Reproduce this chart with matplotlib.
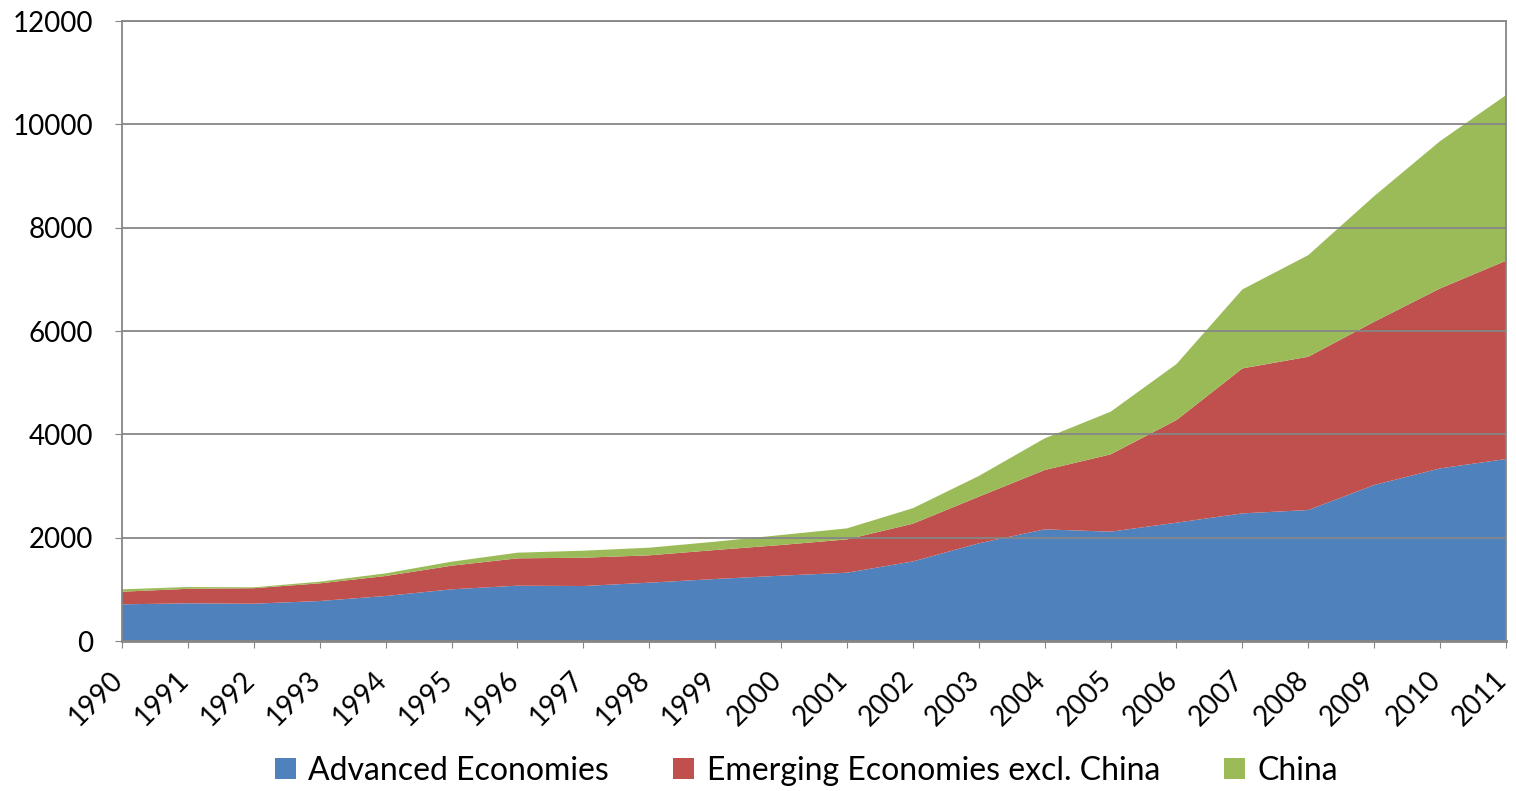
import matplotlib
matplotlib.use("Agg")
import matplotlib.pyplot as plt
from matplotlib.patches import Patch
from matplotlib.transforms import ScaledTranslation
import numpy as np

years = list(range(1990, 2012))

# stacked totals read per layer
advanced = [710, 729, 722, 774, 871, 1000, 1071, 1064, 1129, 1200, 1264,
            1322, 1540, 1890, 2161, 2116, 2290, 2470, 2535, 3019, 3341, 3522]
emerging_top = [954, 1010, 1022, 1116, 1258, 1457, 1600, 1612, 1658, 1761, 1858,
                1967, 2270, 2793, 3309, 3612, 4276, 5276, 5502, 6179, 6824, 7360]
china_top = [1000, 1045, 1039, 1148, 1309, 1535, 1709, 1748, 1806, 1922, 2051,
             2180, 2570, 3193, 3922, 4437, 5360, 6805, 7469, 8611, 9675, 10565]

emerging = [e - a for e, a in zip(emerging_top, advanced)]
china = [c - e for c, e in zip(china_top, emerging_top)]

labels = ["Advanced Economies", "Emerging Economies excl. China", "China"]
colors = ["#4F81BD", "#C0504D", "#9BBB59"]

plt.rcParams['font.family'] = ['Lato', 'DejaVu Sans']

fig = plt.figure(figsize=(15.16, 7.91), dpi=100)
ax = fig.add_axes([122 / 1516, 1 - 641 / 791, (1506 - 122) / 1516, (641 - 21) / 791])

ax.stackplot(years, advanced, emerging, china, colors=colors, linewidth=0)

ax.set_xlim(1990, 2011)
ax.set_ylim(0, 12000)
ax.set_yticks(np.arange(0, 12001, 2000))
ax.set_xticks(years)
ax.set_xticklabels([str(y) for y in years], rotation=45, ha="right",
                   va="center_baseline", rotation_mode="anchor", fontsize=20)
ax.tick_params(axis="y", labelsize=20, length=5, color="#868686", pad=16)
ax.tick_params(axis="x", length=5, color="#868686", pad=19)

# pull the slanted year labels slightly left so they sit under their ticks
shift = ScaledTranslation(-5 / 100, 0, fig.dpi_scale_trans)
for lbl in ax.get_xticklabels():
    lbl.set_transform(lbl.get_transform() + shift)

ax.yaxis.grid(True, color="#868686", linewidth=1.3)
ax.set_axisbelow(False)
for sp in ax.spines.values():
    sp.set_color("#868686")
    sp.set_linewidth(1.3)
ax.spines["bottom"].set_linewidth(2)

handles = [Patch(facecolor=c, edgecolor="none") for c in colors]
fig.legend(handles, labels, loc="center", bbox_to_anchor=(0.532, 1 - 771 / 791),
           ncol=3, frameon=False, fontsize=23, handlelength=0.65, handleheight=0.65,
           handletextpad=0.4, columnspacing=2.0)

fig.savefig("out.png", dpi=100)
